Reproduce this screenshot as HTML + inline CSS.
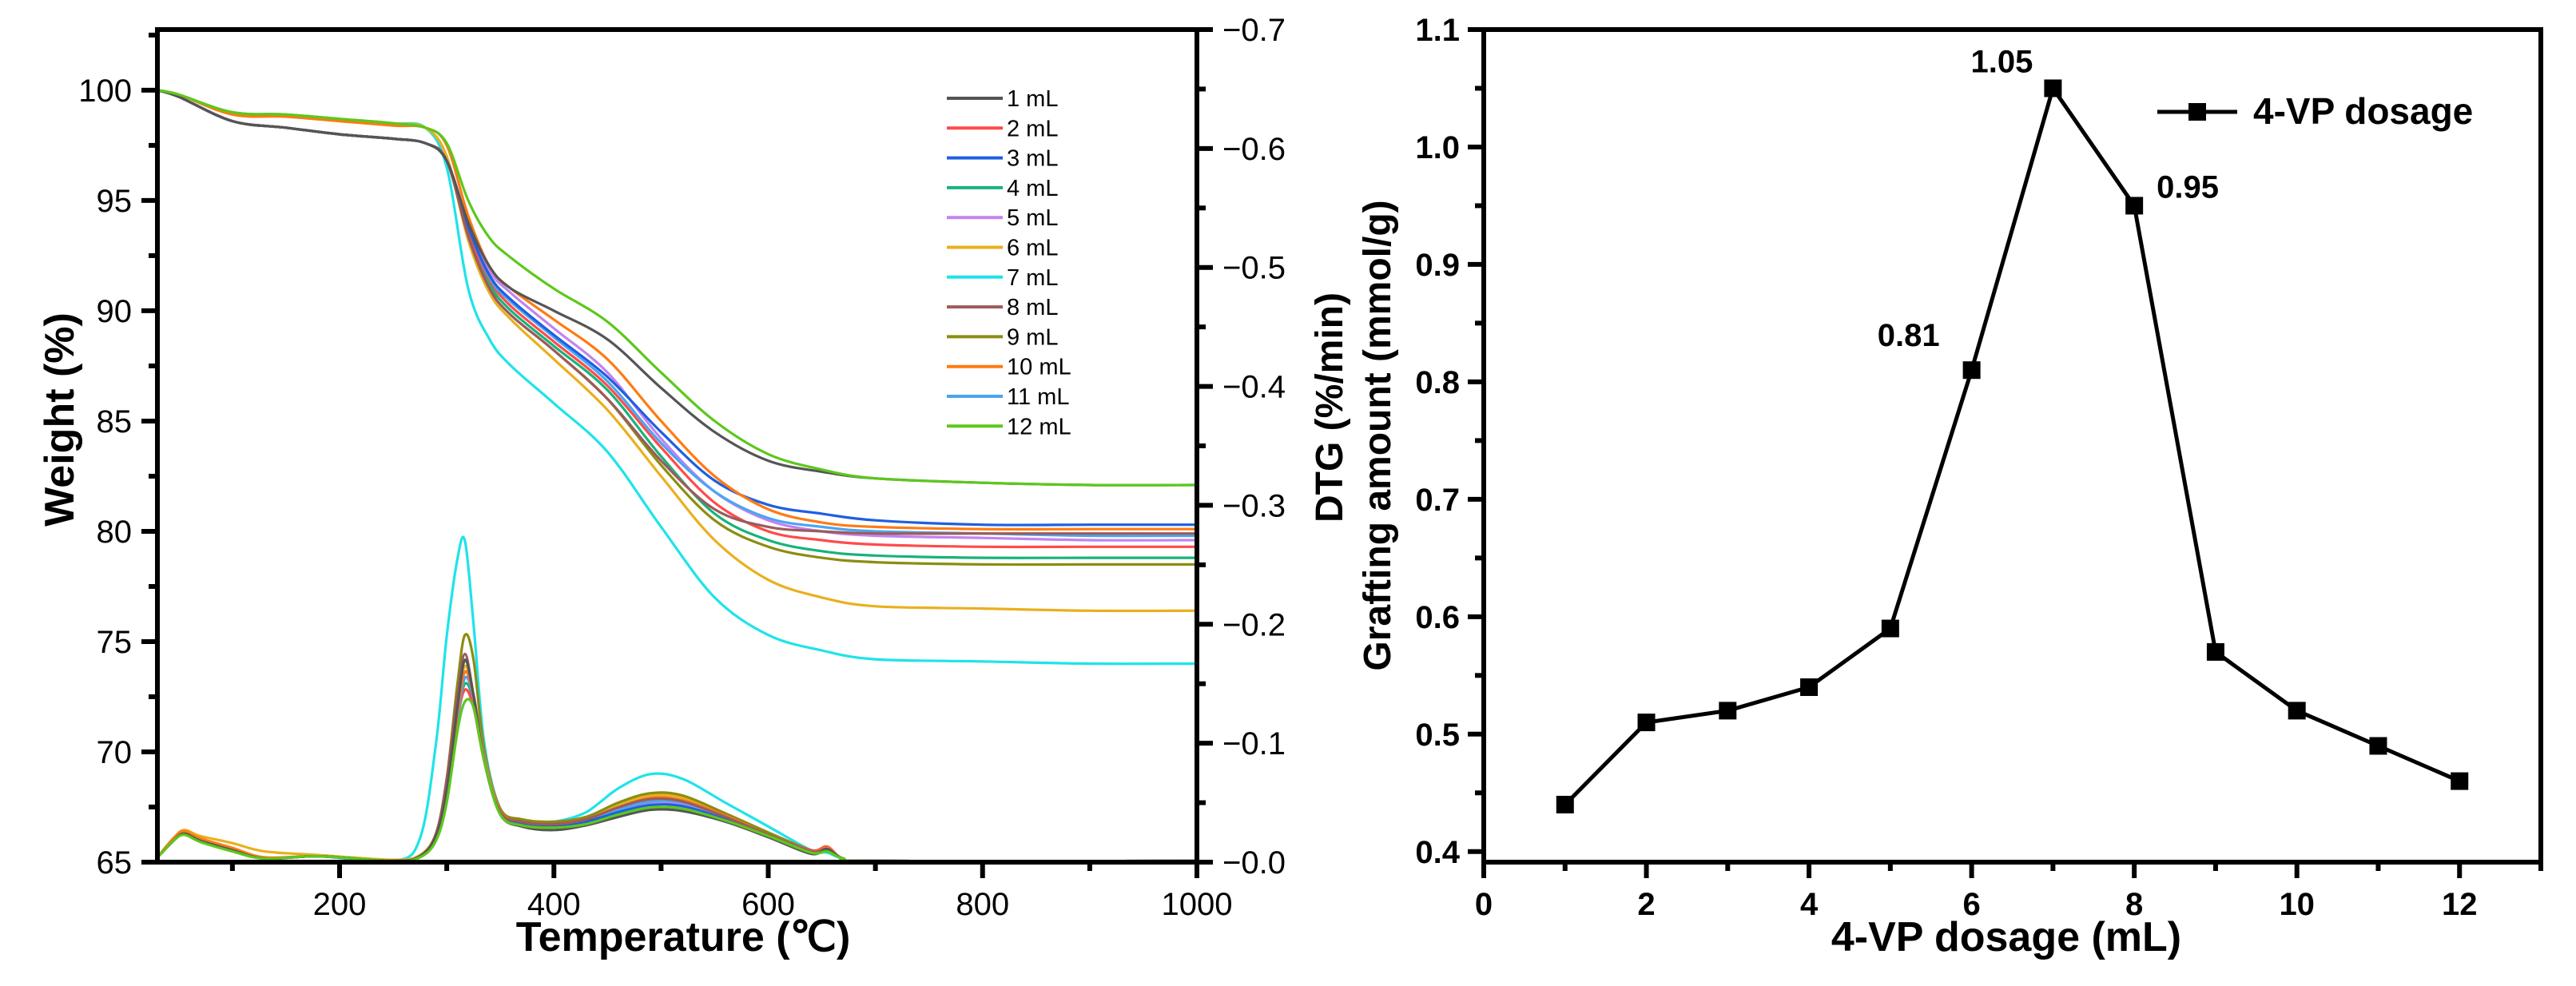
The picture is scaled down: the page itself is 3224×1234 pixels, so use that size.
<!DOCTYPE html>
<html><head><meta charset="utf-8"><style>
html,body{margin:0;padding:0;background:#fff}
svg{display:block}
text{font-family:"Liberation Sans",Arial,sans-serif;fill:#000}
</style></head><body>
<svg id="fig" width="3224" height="1234" viewBox="0 0 3224 1234" xmlns="http://www.w3.org/2000/svg">
<g id="left"></g>
<g id="right"></g>
</svg>
<script>
// ---------- Left chart data ----------
const tgTemps = [30,50,100,150,200,250,280,300,320,340,360,400,450,500,550,600,650,700,800,900,1000];
const seriesNames = ["1 mL","2 mL","3 mL","4 mL","5 mL","6 mL","7 mL","8 mL","9 mL","10 mL","11 mL","12 mL"];
const seriesColors = ["#555555","#ff4b4b","#1f5fe0","#19b27a","#c283f0","#e9b01e","#1ee3ea","#9c5b5b","#8c8c12","#ff7b12","#4ba5f0","#5cc81c"];
const tg1  = [100,99.7,98.6,98.3,98.0,97.8,97.6,96.8,94.0,92.0,91.0,90.0,88.7,86.5,84.5,83.2,82.7,82.4,82.2,82.1,82.1];
const tg2  = [100,99.7,98.6,98.3,98.0,97.8,97.6,96.8,93.6,91.4,90.2,88.6,86.6,83.8,81.3,80.0,79.6,79.4,79.3,79.3,79.3];
const tg3  = [100,99.7,98.6,98.3,98.0,97.8,97.6,96.8,93.8,91.6,90.5,88.9,87.0,84.5,82.3,81.2,80.8,80.5,80.3,80.3,80.3];
const tg4  = [100,99.7,98.6,98.3,98.0,97.8,97.6,96.8,93.5,91.2,90.0,88.4,86.4,83.4,80.8,79.6,79.1,78.9,78.8,78.8,78.8];
const tg5  = [100,99.7,98.6,98.3,98.0,97.8,97.6,96.8,93.9,91.8,90.8,89.2,87.2,84.2,81.8,80.5,80.0,79.8,79.7,79.6,79.6];
const tg6  = [100,99.8,99.0,98.9,98.7,98.5,98.3,97.0,93.2,90.8,89.6,87.8,85.5,82.5,79.6,77.8,77.0,76.6,76.5,76.4,76.4];
const tg7  = [100,99.8,99.0,98.9,98.7,98.5,98.3,96.5,91.0,88.7,87.5,85.8,83.6,80.2,77.0,75.3,74.6,74.2,74.1,74.0,74.0];
const tg8  = [100,99.7,98.6,98.3,98.0,97.8,97.6,96.8,93.4,91.0,89.8,88.2,86.0,83.2,81.0,80.2,80.0,79.9,79.9,79.9,79.9];
const tg9  = [100,99.7,98.6,98.3,98.0,97.8,97.6,96.8,93.4,91.0,89.8,88.2,86.0,83.0,80.5,79.3,78.8,78.6,78.5,78.5,78.5];
const tg10 = [100,99.8,98.9,98.8,98.6,98.4,98.3,97.5,94.3,92.0,91.0,89.6,87.8,85.0,82.5,81.0,80.4,80.2,80.1,80.1,80.1];
const tg11 = [100,99.7,98.6,98.3,98.0,97.8,97.6,96.8,93.8,91.5,90.4,88.8,86.8,84.0,81.8,80.6,80.2,80.0,79.9,79.8,79.8];
const tg12 = [100,99.8,99.0,98.9,98.7,98.5,98.3,97.6,95.0,93.3,92.4,91.0,89.5,87.2,85.0,83.5,82.8,82.4,82.2,82.1,82.1];
const dtgTemps = [30,45,55,70,100,130,180,250,275,290,300,310,317,325,335,350,370,400,430,460,490,520,560,600,640,655,670,700,1000];
const dtg1  = [-0.004,-0.018,-0.024,-0.018,-0.010,-0.003,-0.005,-0.001,-0.005,-0.022,-0.06,-0.13,-0.170,-0.14,-0.085,-0.040,-0.030,-0.027,-0.031,-0.038,-0.044,-0.043,-0.034,-0.021,-0.007,-0.011,-0.003,-0.001,-0.001];
const dtg2  = [-0.004,-0.020,-0.026,-0.019,-0.010,-0.003,-0.005,-0.001,-0.005,-0.022,-0.06,-0.12,-0.145,-0.13,-0.085,-0.042,-0.034,-0.032,-0.036,-0.045,-0.052,-0.050,-0.038,-0.023,-0.010,-0.013,-0.003,-0.001,-0.001];
const dtg3  = [-0.004,-0.018,-0.024,-0.018,-0.010,-0.003,-0.005,-0.001,-0.005,-0.022,-0.06,-0.125,-0.160,-0.14,-0.088,-0.042,-0.032,-0.030,-0.034,-0.042,-0.048,-0.047,-0.036,-0.022,-0.008,-0.010,-0.003,-0.001,-0.001];
const dtg4  = [-0.004,-0.018,-0.024,-0.018,-0.010,-0.003,-0.005,-0.001,-0.005,-0.022,-0.06,-0.12,-0.150,-0.135,-0.085,-0.041,-0.033,-0.031,-0.035,-0.044,-0.050,-0.049,-0.037,-0.022,-0.008,-0.010,-0.003,-0.001,-0.001];
const dtg5  = [-0.004,-0.018,-0.024,-0.018,-0.010,-0.003,-0.005,-0.001,-0.005,-0.022,-0.06,-0.12,-0.155,-0.138,-0.086,-0.041,-0.033,-0.031,-0.035,-0.044,-0.050,-0.049,-0.037,-0.022,-0.008,-0.010,-0.003,-0.001,-0.001];
const dtg6  = [-0.004,-0.020,-0.027,-0.022,-0.016,-0.009,-0.006,-0.002,-0.006,-0.024,-0.065,-0.13,-0.165,-0.14,-0.088,-0.044,-0.036,-0.034,-0.038,-0.048,-0.056,-0.054,-0.040,-0.024,-0.009,-0.011,-0.003,-0.001,-0.001];
const dtg7  = [-0.004,-0.018,-0.024,-0.018,-0.010,-0.003,-0.005,-0.001,-0.020,-0.10,-0.19,-0.255,-0.270,-0.20,-0.10,-0.045,-0.034,-0.034,-0.042,-0.062,-0.074,-0.070,-0.050,-0.030,-0.010,-0.008,-0.003,-0.001,-0.001];
const dtg8  = [-0.004,-0.018,-0.024,-0.018,-0.010,-0.003,-0.005,-0.001,-0.005,-0.024,-0.07,-0.14,-0.175,-0.14,-0.085,-0.042,-0.034,-0.032,-0.036,-0.046,-0.053,-0.051,-0.038,-0.023,-0.009,-0.011,-0.003,-0.001,-0.001];
const dtg9  = [-0.004,-0.019,-0.025,-0.019,-0.011,-0.003,-0.005,-0.001,-0.005,-0.024,-0.07,-0.15,-0.191,-0.17,-0.095,-0.045,-0.036,-0.034,-0.038,-0.050,-0.058,-0.056,-0.041,-0.025,-0.010,-0.011,-0.003,-0.001,-0.001];
const dtg10 = [-0.004,-0.020,-0.026,-0.020,-0.012,-0.004,-0.005,-0.001,-0.005,-0.022,-0.06,-0.125,-0.160,-0.14,-0.088,-0.043,-0.034,-0.032,-0.036,-0.046,-0.054,-0.052,-0.039,-0.023,-0.009,-0.012,-0.003,-0.001,-0.001];
const dtg11 = [-0.004,-0.018,-0.024,-0.018,-0.010,-0.003,-0.005,-0.001,-0.005,-0.022,-0.06,-0.12,-0.155,-0.14,-0.090,-0.043,-0.033,-0.031,-0.035,-0.044,-0.051,-0.050,-0.038,-0.023,-0.009,-0.010,-0.003,-0.001,-0.001];
const dtg12 = [-0.004,-0.018,-0.023,-0.017,-0.009,-0.003,-0.005,-0.001,-0.004,-0.018,-0.05,-0.11,-0.135,-0.13,-0.085,-0.040,-0.031,-0.029,-0.032,-0.040,-0.046,-0.045,-0.035,-0.022,-0.008,-0.009,-0.003,-0.001,-0.001];
const tgSeries = [tg1,tg2,tg3,tg4,tg5,tg6,tg7,tg8,tg9,tg10,tg11,tg12];
const dtgSeries = [dtg1,dtg2,dtg3,dtg4,dtg5,dtg6,dtg7,dtg8,dtg9,dtg10,dtg11,dtg12];
const xTicksL = [200,400,600,800,1000];
const yTicksL = [65,70,75,80,85,90,95,100];
const dtgTicks = [0,-0.1,-0.2,-0.3,-0.4,-0.5,-0.6,-0.7];
const dtgTickLabels = ["\u22120.0","\u22120.1","\u22120.2","\u22120.3","\u22120.4","\u22120.5","\u22120.6","\u22120.7"];

// ---------- Right chart data ----------
const dosage = [1,2,3,4,5,6,7,8,9,10,11,12];
const grafting = [0.44,0.51,0.52,0.54,0.59,0.81,1.05,0.95,0.57,0.52,0.49,0.46];
const annotIdx = [5,6,7];
const annotText = ["0.81","1.05","0.95"];
const xTicksR = [0,2,4,6,8,10,12];
const yTicksR = [0.4,0.5,0.6,0.7,0.8,0.9,1.0,1.1];
const yTickLabelsR = ["0.4","0.5","0.6","0.7","0.8","0.9","1.0","1.1"];

const NS = "http://www.w3.org/2000/svg";
function mk(parent, tag, attrs, text){
  const e = document.createElementNS(NS, tag);
  for (const k in attrs) e.setAttribute(k, attrs[k]);
  if (text !== undefined) e.textContent = text;
  parent.appendChild(e);
  return e;
}
function smoothPath(pts){
  let d = "M" + pts[0][0].toFixed(1) + "," + pts[0][1].toFixed(1);
  for (let i = 0; i < pts.length - 1; i++){
    const p0 = pts[Math.max(0,i-1)], p1 = pts[i], p2 = pts[i+1], p3 = pts[Math.min(pts.length-1,i+2)];
    const c1x = p1[0] + (p2[0]-p0[0])/6, c1y = p1[1] + (p2[1]-p0[1])/6;
    const c2x = p2[0] - (p3[0]-p1[0])/6, c2y = p2[1] - (p3[1]-p1[1])/6;
    d += " C" + c1x.toFixed(1) + "," + c1y.toFixed(1) + " " + c2x.toFixed(1) + "," + c2y.toFixed(1) + " " + p2[0].toFixed(1) + "," + p2[1].toFixed(1);
  }
  return d;
}

// ---------- Left chart ----------
const L = document.getElementById("left");
const LX0 = 197, LX1 = 1498, TOP = 37, BOT = 1079;
const xL = t => LX0 + (t - 30) / 970 * (LX1 - LX0);
const yL = v => BOT - (v - 65) / 37.75 * (BOT - TOP);
const yD = v => BOT - (-v) / 0.7 * (BOT - TOP);

const defs = mk(L, "defs", {});
const cp = mk(defs, "clipPath", {id: "clipL"});
mk(cp, "rect", {x: LX0, y: TOP, width: LX1 - LX0, height: BOT - TOP + 2});
const curves = mk(L, "g", {"clip-path": "url(#clipL)"});


const drawOrder = [6,5,8,3,1,4,10,2,9,7,0,11];
drawOrder.forEach(i => {
  const p = mk(curves, "path", {d: smoothPath(tgTemps.map((t,j) => [xL(t), yL(tgSeries[i][j])])), fill: "none", stroke: seriesColors[i], "stroke-width": 3.2});
  
  
});
drawOrder.forEach(i => {
  const p = mk(curves, "path", {d: smoothPath(dtgTemps.map((t,j) => [xL(t), yD(dtgSeries[i][j])])), fill: "none", stroke: seriesColors[i], "stroke-width": 3.2});
  
  
});

const frameL = mk(L, "rect", {x: LX0, y: TOP, width: LX1 - LX0, height: BOT - TOP, fill: "none", stroke: "#000", "stroke-width": 6});


for (let t = 100; t <= 1000; t += 100){
  const major = t % 200 === 0;
  mk(L, "line", {x1: xL(t), x2: xL(t), y1: BOT, y2: BOT + (major ? 20 : 11), stroke: "#000", "stroke-width": 6});
}
xTicksL.forEach(t => {
  const e = mk(L, "text", {x: xL(t), y: BOT + 66, "font-size": 40, "text-anchor": "middle"}, String(t));
  
  
});
for (let v = 67.5; v <= 102.5; v += 2.5){
  const major = (v % 5) === 0;
  mk(L, "line", {x1: LX0, x2: LX0 - (major ? 20 : 11), y1: yL(v), y2: yL(v), stroke: "#000", "stroke-width": 6});
}
mk(L, "line", {x1: LX0, x2: LX0 - 20, y1: yL(65), y2: yL(65), stroke: "#000", "stroke-width": 6});
yTicksL.forEach(v => {
  const e = mk(L, "text", {x: LX0 - 32, y: yL(v) + 14, "font-size": 40, "text-anchor": "end"}, String(v));
  
  
});
for (let k = 0; k <= 14; k++){
  const v = -k * 0.05;
  const major = k % 2 === 0;
  mk(L, "line", {x1: LX1, x2: LX1 + (major ? 20 : 11), y1: yD(v), y2: yD(v), stroke: "#000", "stroke-width": 6});
}
dtgTicks.forEach((v,i) => {
  const e = mk(L, "text", {x: LX1 + 32, y: yD(v) + 14, "font-size": 40, "text-anchor": "start"}, dtgTickLabels[i]);
  
  
});
const xt = mk(L, "text", {x: 855, y: 1190, "font-size": 52, "font-weight": "bold", "text-anchor": "middle"});
xt.textContent = "Temperature (\u2103)";


const yt = mk(L, "text", {x: 0, y: 0, "font-size": 52, "font-weight": "bold", "text-anchor": "middle", transform: "translate(92,525) rotate(-90)"}, "Weight (%)");


const dt = mk(L, "text", {x: 0, y: 0, "font-size": 48, "font-weight": "bold", "text-anchor": "middle", transform: "translate(1680,510) rotate(-90)"}, "DTG (%/min)");


const leg = mk(L, "g", {});


seriesNames.forEach((n,i) => {
  const y = 123 + i * 37.3;
  const g = mk(leg, "g", {});
  
  
  mk(g, "line", {x1: 1185, x2: 1255, y1: y, y2: y, stroke: seriesColors[i], "stroke-width": 4});
  mk(g, "text", {x: 1260, y: y + 10, "font-size": 29}, n);
});

// ---------- Right chart ----------
const R = document.getElementById("right");
const RX0 = 1857, RX1 = 3180;
const xR = v => RX0 + v / 13 * (RX1 - RX0);
const yR = v => BOT - (v - 0.391) / 0.709 * (BOT - TOP);
const frameR = mk(R, "rect", {x: RX0, y: TOP, width: RX1 - RX0, height: BOT - TOP, fill: "none", stroke: "#000", "stroke-width": 6});


for (let v = 0; v <= 13; v++){
  const major = v % 2 === 0;
  mk(R, "line", {x1: xR(v), x2: xR(v), y1: BOT, y2: BOT + (major ? 20 : 11), stroke: "#000", "stroke-width": 6});
}
xTicksR.forEach(v => {
  const e = mk(R, "text", {x: xR(v), y: BOT + 66, "font-size": 40, "font-weight": "bold", "text-anchor": "middle"}, String(v));
  
  
});
for (let k = 0; k <= 14; k++){
  const v = 0.4 + k * 0.05;
  const major = k % 2 === 0;
  mk(R, "line", {x1: RX0, x2: RX0 - (major ? 20 : 11), y1: yR(v), y2: yR(v), stroke: "#000", "stroke-width": 6});
}
yTicksR.forEach((v,i) => {
  const e = mk(R, "text", {x: RX0 - 30, y: yR(v) + 14, "font-size": 40, "font-weight": "bold", "text-anchor": "end"}, yTickLabelsR[i]);
  
  
});
const line = mk(R, "polyline", {points: dosage.map((d,i) => xR(d) + "," + yR(grafting[i])).join(" "), fill: "none", stroke: "#000", "stroke-width": 5});


dosage.forEach((d,i) => {
  const m = mk(R, "rect", {x: xR(d) - 11, y: yR(grafting[i]) - 11, width: 22, height: 22, fill: "#000"});
  
  
});
const annDx = [-40, -25, 28];
const annDy = [-30, -20, -10];
const annAnchor = ["end","end","start"];
annotIdx.forEach((idx,k) => {
  const e = mk(R, "text", {x: xR(dosage[idx]) + annDx[k], y: yR(grafting[idx]) + annDy[k], "font-size": 40, "font-weight": "bold", "text-anchor": annAnchor[k]}, annotText[k]);
  
  
});
const xtr = mk(R, "text", {x: 2511, y: 1190, "font-size": 52, "font-weight": "bold", "text-anchor": "middle"}, "4-VP dosage (mL)");


const ytr = mk(R, "text", {x: 0, y: 0, "font-size": 48, "font-weight": "bold", "text-anchor": "middle", transform: "translate(1740,545) rotate(-90)"}, "Grafting amount (mmol/g)");


const lg = mk(R, "g", {});


mk(lg, "line", {x1: 2700, x2: 2800, y1: 140, y2: 140, stroke: "#000", "stroke-width": 5});
mk(lg, "rect", {x: 2739, y: 129, width: 22, height: 22, fill: "#000"});
mk(lg, "text", {x: 2820, y: 155, "font-size": 46, "font-weight": "bold"}, "4-VP dosage");
</script>
</body></html>
